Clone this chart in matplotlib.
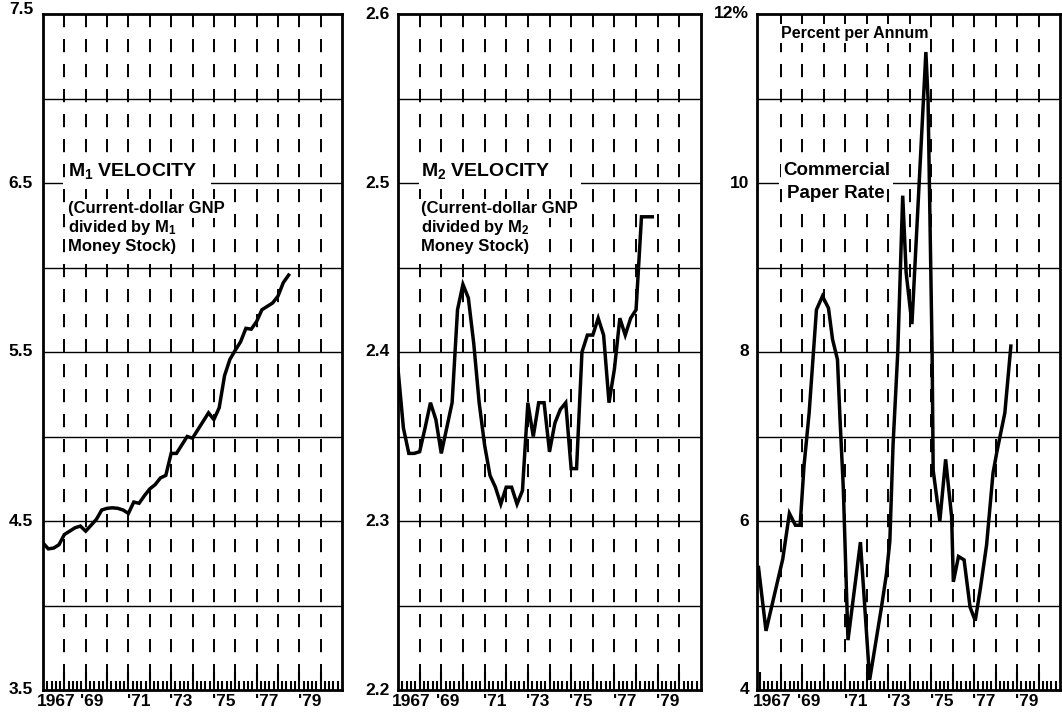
import numpy as np
import matplotlib
matplotlib.use('Agg')
import matplotlib.pyplot as plt
from matplotlib.patches import Rectangle
from matplotlib.lines import Line2D

# ---------------- data ----------------
# Quarterly observations starting 1967 Q1
m1_start = 1967.0
m1_velocity = [4.37, 4.335, 4.34, 4.36, 4.42, 4.44, 4.46, 4.47, 4.44, 4.475,
               4.51, 4.565, 4.575, 4.578, 4.575, 4.565, 4.545, 4.612, 4.605, 4.65,
               4.69, 4.715, 4.755, 4.77, 4.90, 4.90, 4.95, 5.00, 4.99, 5.04,
               5.09, 5.14, 5.10, 5.17, 5.36, 5.456, 5.51, 5.56, 5.64, 5.635,
               5.68, 5.75, 5.77, 5.79, 5.83, 5.91, 5.955]

m2_start = 1967.0
m2_velocity = [2.39, 2.355, 2.34, 2.34, 2.341, 2.355, 2.37, 2.36, 2.34, 2.355,
               2.37, 2.425, 2.44, 2.432, 2.405, 2.37, 2.345, 2.327, 2.32, 2.31,
               2.32, 2.32, 2.31, 2.318, 2.37, 2.35, 2.37, 2.37, 2.341, 2.358,
               2.366, 2.37, 2.331, 2.331, 2.40, 2.41, 2.41, 2.42, 2.41, 2.37,
               2.39, 2.42, 2.41, 2.42, 2.425, 2.48, 2.48, 2.48]

cp_dates = [1966.95, 1967.30, 1968.08, 1968.39, 1968.67, 1968.89, 1969.07, 1969.31,
            1969.65, 1969.93, 1970.21, 1970.40, 1970.63, 1970.75, 1970.90, 1971.12,
            1971.70, 1972.13, 1972.68, 1972.91, 1973.07, 1973.22, 1973.44, 1973.67,
            1973.83, 1974.10, 1974.75, 1974.85, 1975.04, 1975.09, 1975.40, 1975.67,
            1975.95, 1976.03, 1976.27, 1976.53, 1976.81, 1977.05, 1977.30, 1977.58,
            1977.88, 1978.06, 1978.43, 1978.71]
cp_rate = [5.45, 4.70, 5.55, 6.09, 5.95, 5.95, 6.65, 7.28,
           8.50, 8.66, 8.52, 8.15, 7.91, 7.20, 6.40, 4.59,
           5.75, 4.12, 4.98, 5.37, 5.76, 6.90, 8.00, 9.85,
           8.94, 8.33, 11.55, 11.00, 8.00, 6.60, 6.00, 6.73,
           6.05, 5.28, 5.58, 5.54, 4.98, 4.82, 5.22, 5.72,
           6.57, 6.82, 7.28, 8.07]

year_lines = list(range(1968, 1981))
year_label_years = [1967, 1969, 1971, 1973, 1975, 1977, 1979]
year_label_texts = ['1967', "'69", "'71", "'73", "'75", "'77", "'79"]

m1_grid = [4.0, 4.5, 5.0, 5.5, 6.0, 6.5, 7.0]
m1_labels = ['3.5', '4.5', '5.5', '6.5', '7.5']
m2_grid = [2.25, 2.3, 2.35, 2.4, 2.45, 2.5, 2.55]
m2_labels = ['2.2', '2.3', '2.4', '2.5', '2.6']
cp_grid = [5, 6, 7, 8, 9, 10, 11]
cp_labels = ['4', '6', '8', '10', '12%']

# ---------------- style ----------------
plt.rcParams['font.family'] = ['Liberation Sans', 'DejaVu Sans']
plt.rcParams['font.weight'] = 'bold'
plt.rcParams['mathtext.fontset'] = 'custom'
plt.rcParams['mathtext.rm'] = 'Liberation Sans:bold'
plt.rcParams['mathtext.bf'] = 'Liberation Sans:bold'
plt.rcParams['mathtext.it'] = 'Liberation Sans:bold'
plt.rcParams['mathtext.default'] = 'bf'
plt.rcParams['lines.scale_dashes'] = False

W, H = 1062, 720
TOP, BOT = 14, 690
fig = plt.figure(figsize=(W / 100, H / 100), dpi=100)


def fx(x):
    return x / W


def fy(y):
    return 1 - y / H


def make_axes(left, right):
    return fig.add_axes([fx(left), fy(BOT), (right - left) / W, (BOT - TOP) / H])


def setup(ax, left, right, xlim, ylim, grid, labels, gap, top_shift=0):
    ax.set_xlim(*xlim)
    ax.set_ylim(*ylim)
    ax.set_autoscale_on(False)
    for s in ax.spines.values():
        s.set_linewidth(2.0)
        s.set_zorder(5)
    for g in grid:
        ax.axhline(g, color='black', lw=1.0, zorder=1)
    for yr in year_lines:
        # drawn from top to bottom so the dash pattern starts at the top edge
        ax.axvline(yr, ymin=1, ymax=0, color='black', lw=1.4,
                   dashes=(9.5, 8.5), zorder=1)
    ax.set_yticks([])
    ax.set_xticks([])
    # bottom tick marks (inward): tall at each year, short at fifths of a year
    pxyr = (right - left) / (xlim[1] - xlim[0])
    for y0 in range(1967, 1981):
        for k in range(5):
            xt = y0 + 0.2 * k
            if xt <= xlim[0] + 0.05:
                continue
            xp = left + (xt - xlim[0]) * pxyr
            ln = 18 if k == 0 else 9
            fig.add_artist(Line2D([fx(xp), fx(xp)], [fy(BOT), fy(BOT - ln)],
                                  transform=fig.transFigure, color='black',
                                  lw=1.5, solid_capstyle='butt', zorder=6))
    vals = np.linspace(ylim[0], ylim[1], len(labels))
    for i, (v, s) in enumerate(zip(vals, labels)):
        dy = top_shift if i == len(labels) - 1 else 0
        ax.annotate(s, xy=(0, v), xycoords=('axes fraction', 'data'),
                    xytext=(-gap, dy), textcoords='offset pixels',
                    ha='right', va='center', fontsize=12.5, annotation_clip=False)
    for yr, s in zip(year_label_years, year_label_texts):
        if s == '1967':
            xpos = yr - 0.3
        elif s == "'69":
            xpos = yr - 0.25
        else:
            xpos = yr - 0.08
        ax.annotate(s, xy=(xpos, 0), xycoords=('data', 'axes fraction'),
                    xytext=(0, -4), textcoords='offset pixels',
                    ha='left', va='top', fontsize=12.5, annotation_clip=False)


def put(ax, x, y, s, size, ha='left'):
    ax.text(fx(x), fy(y), s, transform=fig.transFigure, fontsize=size,
            ha=ha, va='baseline', zorder=4,
            bbox=dict(boxstyle='square,pad=0.12', fc='white', ec='none'))


def strip(ax, x0, x1, y0, y1):
    ax.add_patch(Rectangle((fx(x0), fy(y1)), (x1 - x0) / W, (y1 - y0) / H,
                           transform=fig.transFigure, fc='white', ec='none',
                           zorder=2))


BODY = 12
LW = 2.5

# ---------------- panel 1: M1 velocity ----------------
ax1 = make_axes(43, 342)
setup(ax1, 43, 342, (1967, 1981), (3.5, 7.5), m1_grid, m1_labels, 10, top_shift=5)
x1 = [m1_start + 0.25 * i for i in range(len(m1_velocity))]
ax1.plot(x1, m1_velocity, color='black', lw=LW, zorder=3, solid_joinstyle='miter')
strip(ax1, 63, 211, 178, 188)
put(ax1, 68, 176, r'M$_{1}$ VELOCITY', 14)
put(ax1, 68, 213, '(Current-dollar GNP', BODY)
put(ax1, 68, 232, r'divided by M$_{1}$', BODY)
put(ax1, 68, 251, 'Money Stock)', BODY)

# ---------------- panel 2: M2 velocity ----------------
ax2 = make_axes(398, 701)
setup(ax2, 398, 701, (1967, 1981), (2.2, 2.6), m2_grid, m2_labels, 8)
x2 = [m2_start + 0.25 * i for i in range(len(m2_velocity))]
ax2.plot(x2, m2_velocity, color='black', lw=LW, zorder=3, solid_joinstyle='miter')
strip(ax2, 419, 581, 178, 188)
put(ax2, 421, 176, r'M$_{2}$ VELOCITY', 14)
put(ax2, 421, 213, '(Current-dollar GNP', BODY)
put(ax2, 421, 232, r'divided by M$_{2}$', BODY)
put(ax2, 421, 251, 'Money Stock)', BODY)

# ---------------- panel 3: commercial paper rate ----------------
ax3 = make_axes(757, 1060)
setup(ax3, 757, 1060, (1966.88, 1981.0), (4, 12), cp_grid, cp_labels, 8)
ax3.plot(cp_dates, cp_rate, color='black', lw=LW, zorder=3, solid_joinstyle='miter')
strip(ax3, 779, 893, 178, 188)
put(ax3, 837, 175, 'Commercial', 13.5, ha='center')
put(ax3, 836, 198, 'Paper Rate', 13.5, ha='center')
put(ax3, 781, 38, 'Percent per Annum', 11.5)

fig.savefig('out.png', dpi=100)
